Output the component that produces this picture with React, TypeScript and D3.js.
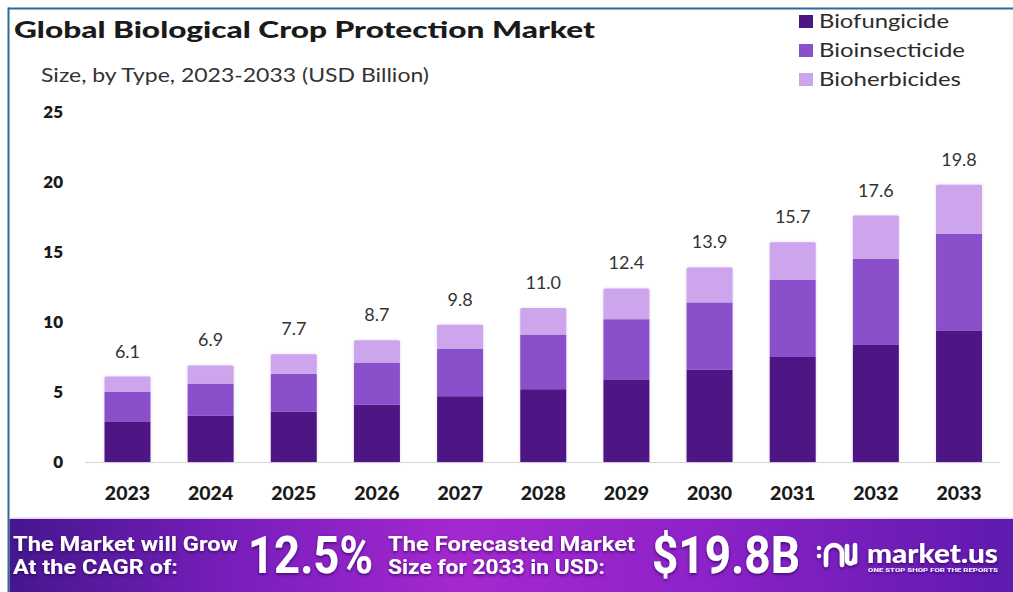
import React from 'react';
import * as d3 from 'd3';

const years = ['2023', '2024', '2025', '2026', '2027', '2028', '2029', '2030', '2031', '2032', '2033'];
const biofungicide = [2.9, 3.3, 3.6, 4.1, 4.7, 5.2, 5.9, 6.6, 7.5, 8.4, 9.4];
const bioinsecticide = [2.1, 2.3, 2.7, 3.0, 3.4, 3.9, 4.3, 4.8, 5.5, 6.1, 6.9];
const bioherbicides = [1.1, 1.3, 1.4, 1.6, 1.7, 1.9, 2.2, 2.5, 2.7, 3.1, 3.5];
const seriesNames = ['Biofungicide', 'Bioinsecticide', 'Bioherbicides'];
const seriesColors = ['#4e1684', '#8a4fcb', '#cca5ec'];
const yTicks = [0, 5, 10, 15, 20, 25];

const W = 1013;
const H = 592;

export default function App() {
  const rows = years.map((y, i) => ({
    year: y,
    Biofungicide: biofungicide[i],
    Bioinsecticide: bioinsecticide[i],
    Bioherbicides: bioherbicides[i],
  }));
  const stacked = d3.stack<any>().keys(seriesNames)(rows);
  const x = d3.scaleBand().domain(years).range([85.9, 1000.6]).paddingInner(0.447).paddingOuter(0.2235);
  const y = d3.scaleLinear().domain([0, 25]).range([462, 112]);
  const totals = years.map((_, i) => biofungicide[i] + bioinsecticide[i] + bioherbicides[i]);
  const bw = x.bandwidth();

  return (
    <svg
      width={W}
      height={H}
      viewBox={`0 0 ${W} ${H}`}
      style={{ position: 'absolute', left: 0, top: 0, display: 'block' }}
    >
      <defs>
        <linearGradient id="banner" x1="0" x2="1" y1="0" y2="0">
          <stop offset="0" stopColor="#45168e" />
          <stop offset="0.25" stopColor="#7e1fc0" />
          <stop offset="0.45" stopColor="#a528cf" />
          <stop offset="0.7" stopColor="#8c22c8" />
          <stop offset="1" stopColor="#5e1aae" />
        </linearGradient>
        <filter id="shadow" x="-10%" y="-30%" width="120%" height="160%">
          <feDropShadow dx="0" dy="1.5" stdDeviation="1.5" floodColor="#2a0650" floodOpacity="0.75" />
        </filter>
        <filter id="barGlow" x="-20%" y="-5%" width="140%" height="110%">
          <feDropShadow dx="0" dy="0" stdDeviation="1.5" floodColor="#8a4fcb" floodOpacity="0.25" />
        </filter>
      </defs>
      <rect x={0} y={0} width={W} height={H} fill="#ffffff" />
      {/* frame */}
      <rect x={8} y={7.5} width={W - 8} height={2} fill="#2a6d95" />
      <rect x={7.5} y={7.5} width={2} height={H - 7.5} fill="#2a6d95" />

      {/* title */}
      <text x={14} y={38} fontFamily="Lato, 'Open Sans', sans-serif" fontWeight={900} fontSize={23.5} fill="#1a1a1a" textLength={581} lengthAdjust="spacingAndGlyphs">
        Global Biological Crop Protection Market
      </text>
      <text x={41} y={82} fontFamily="Lato, 'Open Sans', sans-serif" fontSize={18.5} fill="#333" textLength={388} lengthAdjust="spacingAndGlyphs">
        Size, by Type, 2023-2033 (USD Billion)
      </text>

      {/* legend */}
      {seriesNames.map((s, i) => (
        <g key={s}>
          <rect x={799} y={15 + i * 29} width={14} height={13} fill={seriesColors[i]} />
          <text x={819} y={28 + i * 29} fontFamily="Lato, 'Open Sans', sans-serif" fontSize={19.5} fill="#2b2b2b" textLength={i === 0 ? 130 : i === 1 ? 146 : 142} lengthAdjust="spacingAndGlyphs">
            {s}
          </text>
        </g>
      ))}

      {/* y ticks */}
      {yTicks.map((t) => (
        <text key={t} x={63} y={y(t) - 1} textAnchor="end" dominantBaseline="central" fontFamily="Lato, 'Open Sans', sans-serif" fontWeight={800} fontSize={17} fill="#1a1a1a">
          {t}
        </text>
      ))}

      {/* baseline */}
      <line x1={85} x2={1000} y1={y(0) + 0.5} y2={y(0) + 0.5} stroke="#d6d6d6" strokeWidth={1} />

      {/* bars */}
      <g filter="url(#barGlow)">
        {stacked.map((layer, li) =>
          layer.map((d, i) => (
            <rect
              key={`${li}-${i}`}
              x={x(years[i])}
              y={y(d[1])}
              width={bw}
              height={y(d[0]) - y(d[1])}
              fill={seriesColors[li]}
              rx={li === 2 ? 1.5 : 0}
            />
          ))
        )}
      </g>

      {/* totals */}
      {years.map((yr, i) => (
        <text key={yr} x={(x(yr) as number) + bw / 2} y={y(totals[i]) - 19} textAnchor="middle" fontFamily="Lato, 'Open Sans', sans-serif" fontSize={18} fill="#333">
          {totals[i].toFixed(1)}
        </text>
      ))}

      {/* x labels */}
      {years.map((yr) => (
        <text key={yr} x={(x(yr) as number) + bw / 2} y={500} textAnchor="middle" fontFamily="Lato, 'Open Sans', sans-serif" fontWeight={900} fontSize={19.5} fill="#1a1a1a">
          {yr}
        </text>
      ))}

      {/* banner */}
      <rect x={9.5} y={517.5} width={W - 9.5} height={1.5} fill="#e7cdee" />
      <rect x={9.5} y={519} width={W - 9.5} height={H - 519} fill="url(#banner)" />
      <g filter="url(#shadow)" fill="#ffffff" fontFamily="Roboto, 'Liberation Sans', sans-serif" fontWeight={700}>
        <text x={13} y={551} fontSize={20.5} textLength={225} lengthAdjust="spacingAndGlyphs">The Market will Grow</text>
        <text x={13} y={574} fontSize={20.5} textLength={165} lengthAdjust="spacingAndGlyphs">At the CAGR of:</text>
        <text x={248} y={573} fontSize={51} textLength={125} lengthAdjust="spacingAndGlyphs">12.5%</text>
        <text x={388} y={551} fontSize={20.5} textLength={247} lengthAdjust="spacingAndGlyphs">The Forecasted Market</text>
        <text x={388} y={574} fontSize={20.5} textLength={217} lengthAdjust="spacingAndGlyphs">Size for 2033 in USD:</text>
        <text x={652} y={573} fontSize={51} textLength={148} lengthAdjust="spacingAndGlyphs">$19.8B</text>
      </g>
      {/* logo */}
      <g filter="url(#shadow)">
        <circle cx={819} cy={548} r={2.2} fill="#fff" />
        <circle cx={819} cy={556} r={2.2} fill="#fff" />
        <path d="M826,565 L826,553 A8,8 0 0 1 842,553 L842,565" fill="none" stroke="#fff" strokeWidth={4.5} strokeLinecap="round" />
        <path d="M847,546 L847,560 A3.5,3.5 0 0 0 854,560" fill="none" stroke="#fff" strokeWidth={4.5} strokeLinecap="round" />
        <path d="M855,545 L855,562" fill="none" stroke="#fff" strokeWidth={4.5} strokeLinecap="round" />
        <text x={867} y={563} fontFamily="Lato, 'Open Sans', sans-serif" fontWeight={900} fontSize={26} fill="#fff" textLength={131} lengthAdjust="spacingAndGlyphs">market.us</text>
        <text x={868} y={572} fontFamily="Roboto, sans-serif" fontWeight={900} fontSize={5} fill="#f0e0ff" textLength={130} lengthAdjust="spacingAndGlyphs">ONE STOP SHOP FOR THE REPORTS</text>
      </g>
    </svg>
  );
}
